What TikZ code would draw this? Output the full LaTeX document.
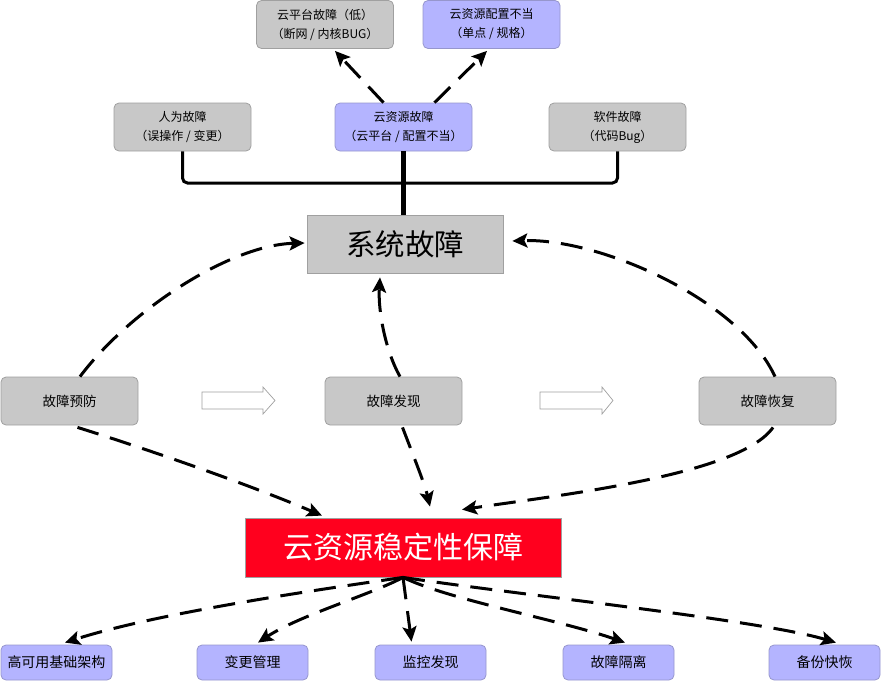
\documentclass[tikz,border=0pt]{standalone}
\usepackage{fontspec}
\setmainfont{Noto Sans CJK SC}
\usetikzlibrary{arrows.meta,calc}
\definecolor{boxgray}{RGB}{200,200,200}
\definecolor{boxline}{RGB}{160,160,160}
\definecolor{lav}{RGB}{180,180,255}
\definecolor{lavline}{RGB}{150,150,205}
\definecolor{redbox}{RGB}{255,0,30}
\begin{document}
\begin{tikzpicture}[x=1pt,y=-1pt,
 small/.style={draw=boxline, fill=boxgray, rounded corners=5pt, minimum width=137pt, minimum height=48pt, inner sep=0pt, align=center, font=\fontsize{12}{19}\selectfont, line width=0.8pt},
 lavbox/.style={small, fill=lav, draw=lavline},
 mid/.style={small, font=\fontsize{13.5}{16}\selectfont},
 bot/.style={lavbox, minimum width=111pt, minimum height=35pt, font=\fontsize{14}{16}\selectfont},
 dasharrow/.style={line width=3pt, dash pattern=on 22pt off 12pt, -{Stealth[length=15pt,width=14pt,inset=3pt]}},
 bus/.style={line width=3pt, rounded corners=5pt},
 hollow/.style={draw=boxline, fill=white, line width=0.7pt}
]
\useasboundingbox (0,0) rectangle (881,681);

\node[small] (top1) at (325,24.5) {云平台故障（低）\\（断网 / 内核BUG）};
\node[lavbox] (top2) at (491.5,24.5) {云资源配置不当\\（单点 / 规格）};
\node[small] (h1) at (182.5,127) {人为故障\\（误操作 / 变更）};
\node[lavbox] (cloud) at (403.5,127) {云资源故障\\（云平台 / 配置不当）};
\node[small] (soft) at (617.5,127) {软件故障\\（代码Bug）};

\node[draw=boxline, fill=boxgray, minimum width=196pt, minimum height=58pt, inner sep=0pt, line width=0.8pt, font=\fontsize{29.5}{32}\selectfont] (sys) at (405,244) {系统故障};

\node[mid] (prev) at (69.5,401) {故障预防};
\node[mid] (disc) at (393.5,401) {故障发现};
\node[mid] (rec) at (767.5,401) {故障恢复};

\draw[hollow] (202,392) -- (263,392) -- (263,387) -- (275,400.5) -- (263,414) -- (263,409) -- (202,409) -- cycle;
\draw[hollow] (540,392) -- (602,392) -- (602,387) -- (613,400.5) -- (602,414) -- (602,409) -- (540,409) -- cycle;

\node[draw=boxline, fill=redbox, text=white, minimum width=316pt, minimum height=59pt, inner sep=0pt, line width=0.8pt, font=\fontsize{30}{32}\selectfont] (red) at (403,547.5) {云资源稳定性保障};

\node[bot] (b1) at (56.5,662.5) {高可用基础架构};
\node[bot] (b2) at (252.5,662.5) {变更管理};
\node[bot] (b3) at (430.5,662.5) {监控发现};
\node[bot] (b4) at (618.5,662.5) {故障隔离};
\node[bot] (b5) at (824.5,662.5) {备份快恢};

% tree
\coordinate (busc) at (403.5,183);
\draw[bus] (h1.south) |- (busc) -| (soft.south);
\draw[line width=4.5pt] (cloud.south) -- (cloud.south |- sys.north);

% top arrows
\draw[dasharrow] ($(cloud.north)+(-20,0)$) -- ($(top1.south)+(10,2)$);
\draw[dasharrow] ($(cloud.north)+(31,0)$) -- ($(top2.south)+(-4.5,2)$);

% to system fault
\draw[dasharrow] ($(prev.north)+(10.5,0)$) .. controls (130,310) and (230,245) .. ($(sys.west)+(-2,-1)$);
\draw[dasharrow] ($(disc.north)+(6.5,0)$) .. controls (385,350) and (378,310) .. ($(sys.south)+(-25,4)$);
\draw[dasharrow] ($(rec.north)+(7.5,0)$) .. controls (740,300) and (600,238) .. ($(sys.east)+(9,-3)$);

% to stability
\draw[dasharrow] ($(prev.south)+(8,2)$) .. controls (150,450) and (250,485) .. ($(red.north)+(-81,-2)$);
\draw[dasharrow] ($(disc.south)+(9,2)$) .. controls (415,460) and (425,485) .. ($(red.north)+(27,-11)$);
\draw[dasharrow] ($(rec.south)+(5.5,2)$) .. controls (740,475) and (560,495) .. ($(red.north)+(59,-8)$);

% to bottom
\draw[dasharrow] (red.south) .. controls (330,588) and (160,612) .. ($(b1.north)+(8.5,-2)$);
\draw[dasharrow] (red.south) .. controls (370,595) and (300,615) .. ($(b2.north)+(5.5,-2)$);
\draw[dasharrow] (red.south) -- ($(b3.north)+(-19,-3)$);
\draw[dasharrow] (red.south) .. controls (450,600) and (560,620) .. ($(b4.north)+(6.5,-2)$);
\draw[dasharrow] (red.south) .. controls (520,595) and (760,620) .. ($(b5.north)+(11.5,-2)$);
\end{tikzpicture}
\end{document}
